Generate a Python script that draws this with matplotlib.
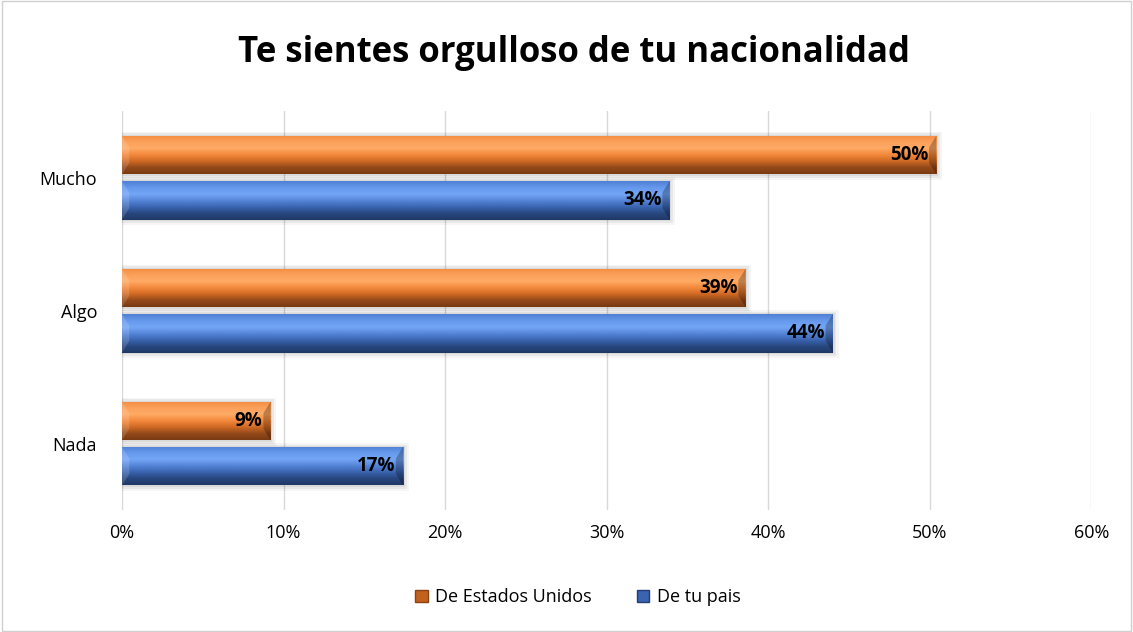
import numpy as np
import matplotlib
matplotlib.use('Agg')
import matplotlib.pyplot as plt
from matplotlib.colors import LinearSegmentedColormap
from matplotlib.patches import Rectangle, Patch, Polygon

plt.rcParams['font.family'] = ['Open Sans', 'DejaVu Sans']

# data
categorias = ['Mucho', 'Algo', 'Nada']
estados_unidos = [50.4, 38.6, 9.2]
tu_pais = [33.9, 44.0, 17.4]
series_names = ['De Estados Unidos', 'De tu pais']
xticks = [0, 10, 20, 30, 40, 50, 60]

# top -> bottom of each bar
orange_cols = ['#f48c40', '#fba05a', '#ffab66', '#f4893c', '#d06a24', '#94491a', '#7a3a12']
blue_cols = ['#4f80d4', '#6698ec', '#74a6f6', '#5585d8', '#3a64b0', '#28477f', '#1f3966']
cmap_or = LinearSegmentedColormap.from_list('or', orange_cols)
cmap_bl = LinearSegmentedColormap.from_list('bl', blue_cols)

fig = plt.figure(figsize=(11.33, 6.32), dpi=100)
ax = fig.add_axes([0.1077, 0.193, 0.8556, 0.631])

# outer chart border
fig.patches.append(Rectangle((0.002, 0.002), 0.996, 0.996, transform=fig.transFigure,
                             fill=False, edgecolor='#d0d0d0', linewidth=1.0))

y = np.arange(len(categorias))
h = 0.29
gap = 0.025

bars_us = ax.barh(y - h / 2 - gap, estados_unidos, h, color='#e57a30', zorder=3)
bars_tp = ax.barh(y + h / 2 + gap, tu_pais, h, color='#4573c4', zorder=3)

grad = np.linspace(0, 1, 100).reshape(-1, 1)
for bars, cmap in ((bars_us, cmap_or), (bars_tp, cmap_bl)):
    for b in bars:
        x0, y0 = b.get_x(), b.get_y()
        w, hh = b.get_width(), b.get_height()
        # soft shadow
        for k, a in ((0.35, 0.04), (0.22, 0.05), (0.1, 0.06)):
            ax.add_patch(Rectangle((x0, y0 - k * 0.08), w + k, hh + k * 0.2, color='#000000',
                                   alpha=a, zorder=2, linewidth=0))
        im = ax.imshow(grad, cmap=cmap, aspect='auto', extent=(x0, x0 + w, y0 + hh, y0),
                       origin='upper', zorder=4, interpolation='bicubic')
        im.set_clip_path(b)
        # bevelled end caps
        ax.add_patch(Polygon([(x0 + w, y0), (x0 + w - 0.45, y0 + hh * 0.3),
                              (x0 + w - 0.45, y0 + hh * 0.7), (x0 + w, y0 + hh)],
                             closed=True, color='black', alpha=0.25, zorder=5, linewidth=0))
        ax.add_patch(Polygon([(x0, y0), (x0 + 0.45, y0 + hh * 0.3),
                              (x0 + 0.45, y0 + hh * 0.7), (x0, y0 + hh)],
                             closed=True, color='white', alpha=0.15, zorder=5, linewidth=0))
        ax.text(x0 + w - 0.5, y0 + hh / 2, '{:.0f}%'.format(w), ha='right', va='center',
                fontsize=13.5, fontweight='bold', color='black', zorder=6)

ax.set_xlim(0, 60)
ax.set_ylim(len(categorias) - 0.5, -0.5)
ax.set_xticks(xticks)
ax.set_xticklabels(['{}%'.format(t) for t in xticks], fontsize=13)
ax.set_yticks(y)
ax.set_yticklabels(categorias, fontsize=13)
ax.tick_params(length=0, pad=10)
ax.tick_params(axis='y', pad=28 - 10)
ax.xaxis.grid(True, color='#d9d9d9', linewidth=1, zorder=0)
ax.set_axisbelow(True)
for s in ax.spines.values():
    s.set_visible(False)

fig.suptitle('Te sientes orgulloso de tu nacionalidad', fontsize=25, fontweight='bold',
             y=0.945, x=0.507)

handles = [Patch(facecolor='#c2601e', edgecolor='#8a4212'),
           Patch(facecolor='#3a63b0', edgecolor='#223e75')]
fig.legend(handles, series_names, loc='center', bbox_to_anchor=(0.51, 0.055), ncol=2,
           frameon=False, fontsize=13, handlelength=0.7, handleheight=0.7,
           columnspacing=2.5, handletextpad=0.4)

fig.savefig('out.png', dpi=100)
